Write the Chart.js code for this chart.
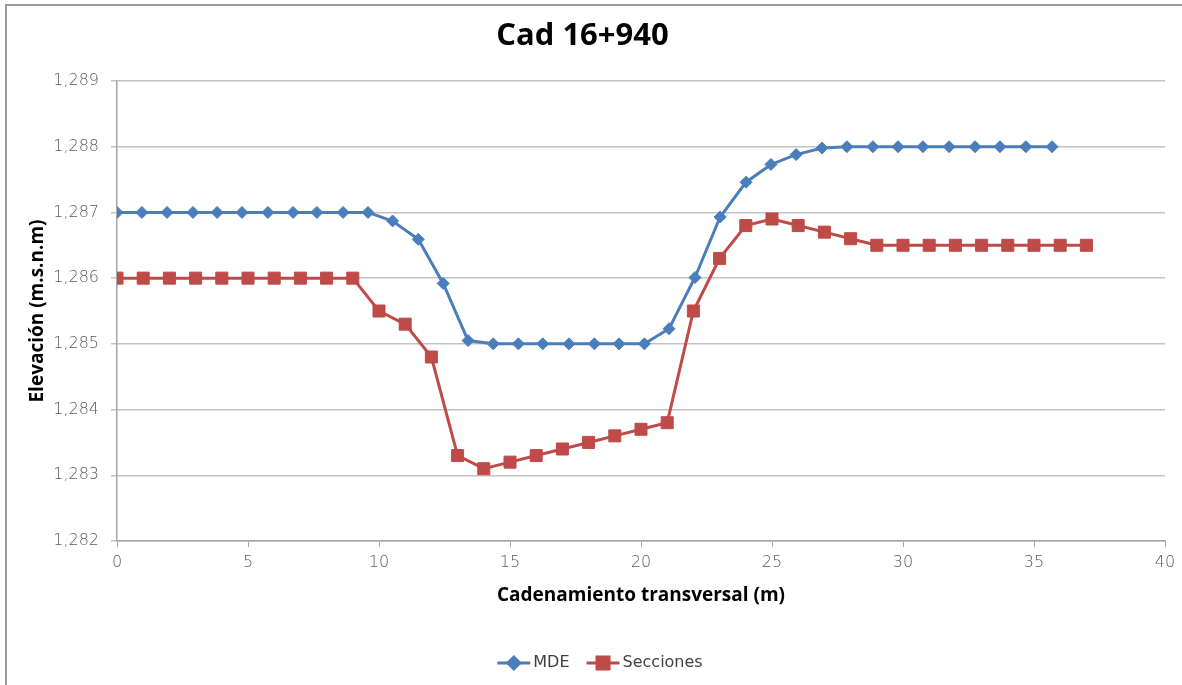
<!DOCTYPE html>
<html>
<head>
<meta charset="utf-8">
<script src="https://cdn.jsdelivr.net/npm/chart.js@4.4.1/dist/chart.umd.min.js"></script>
<style>
  html, body { margin: 0; padding: 0; background: #fff; }
  #wrap { position: relative; width: 1182px; height: 685px; overflow: hidden; }
  #frame { position: absolute; left: 5px; top: 4px; width: 1200px; height: 700px;
           border-left: 2px solid #9c9c9c; border-top: 2px solid #9c9c9c; pointer-events: none; }
  canvas { position: absolute; left: 0; top: 0; }
</style>
</head>
<body>
<div id="wrap">
  <canvas id="c" width="1182" height="685"></canvas>
  <div id="frame"></div>
</div>
<script>
// ---- data ----
const chartTitle = 'Cad 16+940';
const xAxisTitle = 'Cadenamiento transversal (m)';
const yAxisTitle = 'Elevación (m.s.n.m)';
const seriesNames = ['MDE', 'Secciones'];

const mdeX = [0, 0.95, 1.91, 2.90, 3.82, 4.77, 5.76, 6.72, 7.63, 8.63, 9.58,
              10.52, 11.50, 12.45, 13.40, 14.36, 15.32, 16.25, 17.25, 18.22, 19.16,
              20.13, 21.07, 22.06, 23.02, 24.01, 24.96, 25.92, 26.91, 27.86, 28.85,
              29.81, 30.76, 31.76, 32.75, 33.70, 34.69, 35.69];
const mdeY = [1287, 1287, 1287, 1287, 1287, 1287, 1287, 1287, 1287, 1287, 1287,
              1286.87, 1286.59, 1285.92, 1285.05, 1285, 1285, 1285, 1285, 1285, 1285,
              1285, 1285.23, 1286.01, 1286.93, 1287.46, 1287.73, 1287.88, 1287.98, 1288, 1288,
              1288, 1288, 1288, 1288, 1288, 1288, 1288];

const seccX = [0, 1, 2, 3, 4, 5, 6, 7, 8, 9, 10, 11, 12, 13, 14, 15, 16, 17, 18, 19,
               20, 21, 22, 23, 24, 25, 26, 27, 28, 29, 30, 31, 32, 33, 34, 35, 36, 37];
const seccY = [1286, 1286, 1286, 1286, 1286, 1286, 1286, 1286, 1286, 1286,
               1285.5, 1285.3, 1284.8, 1283.3, 1283.1, 1283.2, 1283.3, 1283.4, 1283.5, 1283.6,
               1283.7, 1283.8, 1285.5, 1286.3, 1286.8, 1286.9, 1286.8, 1286.7, 1286.6, 1286.5,
               1286.5, 1286.5, 1286.5, 1286.5, 1286.5, 1286.5, 1286.5, 1286.5];

const xTickValues = [0, 5, 10, 15, 20, 25, 30, 35, 40];
const yTickValues = [1282, 1283, 1284, 1285, 1286, 1287, 1288, 1289];
const yTickLabels = ['1,282', '1,283', '1,284', '1,285', '1,286', '1,287', '1,288', '1,289'];

// ---- styles ----
const BLUE = '#4A7EBB';
const RED = '#BE4B48';
const tickFont = { family: 'DejaVu Sans', size: 16, weight: '300' };
const tickColor = '#5a5a5a';
const axisTitleFont = { family: 'Open Sans', size: 19, weight: 'bold' };

const toPoints = (xs, ys) => xs.map((x, i) => ({ x: x, y: ys[i] }));

const customLegend = {
  id: 'customLegend',
  afterDraw(chart) {
    const ctx = chart.ctx;
    const cy = 663;
    const lineLen = 33, gapText = 3, gapItem = 17;
    ctx.save();
    ctx.font = '16px "DejaVu Sans"';
    const items = chart.data.datasets.map(ds => ({ ds, w: ctx.measureText(ds.label).width }));
    let total = 0;
    items.forEach((it, i) => { total += lineLen + gapText + it.w + (i ? gapItem : 0); });
    let x = 600 - total / 2;
    items.forEach((it, i) => {
      if (i) x += gapItem;
      const ds = it.ds;
      ctx.strokeStyle = ds.borderColor;
      ctx.lineWidth = 3;
      ctx.beginPath();
      ctx.moveTo(x, cy);
      ctx.lineTo(x + lineLen, cy);
      ctx.stroke();
      ctx.fillStyle = ds.pointBackgroundColor;
      ctx.strokeStyle = ds.pointBorderColor;
      Chart.helpers.drawPoint(ctx, {
        pointStyle: ds.pointStyle, radius: ds.pointRadius, rotation: 0, borderWidth: 1
      }, x + lineLen / 2, cy);
      x += lineLen + gapText;
      ctx.fillStyle = '#404040';
      ctx.textBaseline = 'middle';
      ctx.textAlign = 'left';
      ctx.fillText(ds.label, x, cy);
      x += it.w;
    });
    ctx.restore();
  }
};

new Chart(document.getElementById('c'), {
  type: 'line',
  data: {
    datasets: [
      {
        label: seriesNames[0],
        data: toPoints(mdeX, mdeY),
        borderColor: BLUE, backgroundColor: BLUE,
        pointBackgroundColor: BLUE, pointBorderColor: BLUE,
        pointStyle: 'rectRot', pointRadius: 6, pointBorderWidth: 1,
        borderWidth: 3, tension: 0, fill: false
      },
      {
        label: seriesNames[1],
        data: toPoints(seccX, seccY),
        borderColor: RED, backgroundColor: RED,
        pointBackgroundColor: RED, pointBorderColor: RED,
        pointStyle: 'rect', pointRadius: 8.5, pointBorderWidth: 1,
        borderWidth: 3, tension: 0, fill: false
      }
    ]
  },
  options: {
    responsive: false,
    animation: false,
    layout: { padding: { left: 0, right: 17, top: 0, bottom: 0 } },
    plugins: {
      legend: { display: false },
      tooltip: { enabled: false },
      title: {
        display: true, text: chartTitle, color: '#000',
        font: { family: 'Open Sans', size: 31, weight: 'bold' },
        padding: { top: 18, bottom: 25.8 }
      }
    },
    scales: {
      x: {
        type: 'linear', min: 0, max: 40,
        afterFit: s => { s.height = 144; },
        afterBuildTicks: s => { s.ticks = xTickValues.map(v => ({ value: v })); },
        ticks: { font: tickFont, color: tickColor, padding: 6.5, maxRotation: 0,
                 callback: v => String(v) },
        grid: { drawOnChartArea: false, drawTicks: true, tickLength: 6, color: '#a6a6a6' },
        border: { color: '#a6a6a6', width: 1.5 },
        title: { display: true, text: xAxisTitle, color: '#000', font: axisTitleFont,
                 padding: { top: 0, bottom: 77.6 } }
      },
      y: {
        type: 'linear', min: 1282, max: 1289,
        afterFit: s => { s.width = 117; },
        afterBuildTicks: s => { s.ticks = yTickValues.map(v => ({ value: v })); },
        ticks: { font: tickFont, color: tickColor, padding: 12,
                 callback: v => yTickLabels[yTickValues.indexOf(v)] },
        grid: { color: '#c3c3c3', lineWidth: 1.5, tickLength: 6 },
        border: { color: '#a6a6a6', width: 1.5 },
        title: { display: true, text: yAxisTitle, color: '#000', font: axisTitleFont,
                 padding: { top: 26, bottom: 0 } }
      }
    }
  },
  plugins: [customLegend]
});
</script>
</body>
</html>
